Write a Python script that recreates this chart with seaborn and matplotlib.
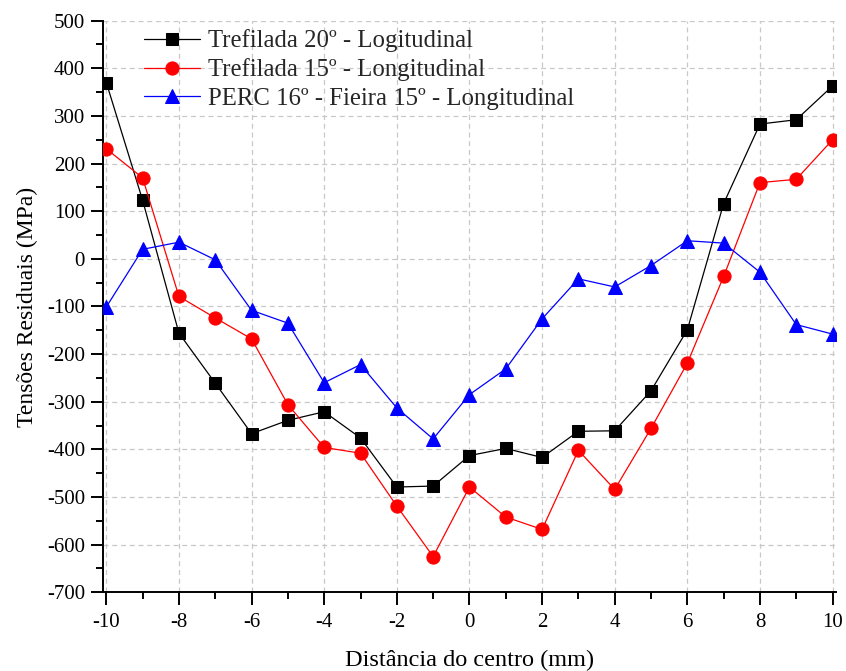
import numpy as np
import pandas as pd
import matplotlib
matplotlib.use("Agg")
import matplotlib.pyplot as plt
import seaborn as sns
from matplotlib.ticker import MultipleLocator

x = list(range(-10, 11))
s20 = [370, 123, -156, -261, -367, -339, -321, -376, -479, -477, -413, -398, -417, -362, -361, -277, -149, 116, 283, 292, 363]
s15 = [231, 170, -79, -124, -168, -306, -396, -408, -519, -625, -479, -542, -568, -402, -484, -356, -219, -37, 160, 167, 250]
perc = [-101, 20, 35, -2, -108, -135, -260, -222, -313, -378, -285, -231, -126, -42, -59, -14, 38, 33, -28, -138, -158]

names = ["Trefilada 20º - Logitudinal", "Trefilada 15º - Longitudinal", "PERC 16º - Fieira 15º - Longitudinal"]
colors = ["black", "red", "blue"]
markers = ["s", "o", "^"]
msizes = [8, 9.5, 10]

df = pd.concat([
    pd.DataFrame({"x": x, "y": vals, "serie": name})
    for vals, name in zip([s20, s15, perc], names)
])

sns.set_theme(style="white")
plt.rcParams["font.family"] = ["Liberation Serif", "DejaVu Serif"]

fig = plt.figure(figsize=(8.46, 6.71), dpi=100)
ax = fig.add_axes([0.1218, 0.1173, 0.8662, 0.8519])

for name, c, m, ms in zip(names, colors, markers, msizes):
    sub = df[df["serie"] == name]
    sns.lineplot(data=sub, x="x", y="y", ax=ax, color=c, marker=m, markersize=ms,
                 markeredgecolor=c, markerfacecolor=c, linewidth=0.9, label=name, zorder=3)

ax.set_xlim(-10.09, 10.09)
ax.set_ylim(-700, 500)
ax.xaxis.set_major_locator(MultipleLocator(2))
ax.xaxis.set_minor_locator(MultipleLocator(1))
ax.yaxis.set_major_locator(MultipleLocator(100))
ax.yaxis.set_minor_locator(MultipleLocator(50))

ax.grid(True, which="major", linestyle=(0, (4, 3)), color="#c8c8c8", linewidth=0.9, zorder=0)
for s in ["top", "right"]:
    ax.spines[s].set_visible(False)
for s in ["left", "bottom"]:
    ax.spines[s].set_color("black")
    ax.spines[s].set_linewidth(1.4)

ax.tick_params(which="major", direction="out", length=9, width=1.4, colors="black",
               labelsize=15, left=True, bottom=True, pad=4)
ax.tick_params(axis="x", which="major", pad=6)
ax.tick_params(which="minor", direction="out", length=5, width=1.4, colors="black",
               left=True, bottom=True)
ax.set_xticks(range(-10, 11, 2))
ax.set_xticklabels([str(v) for v in range(-10, 11, 2)])
ax.set_yticks(range(-700, 501, 100))
ax.set_yticklabels([str(v) for v in range(-700, 501, 100)])

ax.set_xlabel("Distância do centro (mm)", fontsize=17.5, color="black", labelpad=13)
ax.set_ylabel("Tensões Residuais (MPa)", fontsize=17, color="black", labelpad=6)

leg = ax.legend(loc="upper left", bbox_to_anchor=(0.035, 1.011), frameon=False,
                fontsize=17.8, handlelength=2.3, handletextpad=0.3, labelspacing=0.25,
                borderaxespad=0.2)

fig.savefig("out.png", dpi=100)
